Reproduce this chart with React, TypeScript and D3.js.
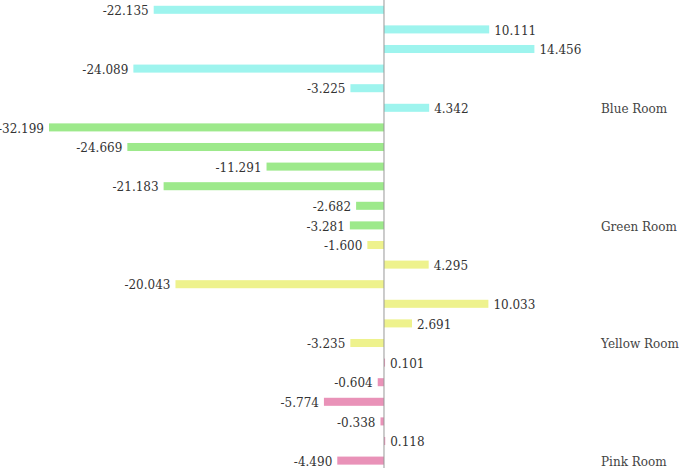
import React from "react";
import * as d3 from "d3";

const groups = ["Blue Room", "Green Room", "Yellow Room", "Pink Room"];
const groupColors = ["#9ef4ee", "#9de98b", "#eef28d", "#e992b8"];
const blueValues = [-22.135, 10.111, 14.456, -24.089, -3.225, 4.342];
const greenValues = [-32.199, -24.669, -11.291, -21.183, -2.682, -3.281];
const yellowValues = [-1.6, 4.295, -20.043, 10.033, 2.691, -3.235];
const pinkValues = [0.101, -0.604, -5.774, -0.338, 0.118, -4.49];

const W = 685;
const H = 469;

export default function App() {
  const series = [blueValues, greenValues, yellowValues, pinkValues];
  const rows = series.flatMap((vals, gi) =>
    vals.map((v, i) => ({ key: `${gi}-${i}`, g: gi, v, last: i === vals.length - 1 }))
  );
  const x = d3.scaleLinear().domain([-32.199, 14.456]).range([49, 534.4]);
  const y = d3
    .scaleBand<string>()
    .domain(rows.map((r) => r.key))
    .range([0, 470.4])
    .paddingInner(0.59)
    .paddingOuter(0.295);
  const fmt = (v: number) => d3.format(".3f")(v).replace("\u2212", "-");
  const x0 = x(0);
  return (
    <svg
      width={W}
      height={H}
      style={{ position: "absolute", left: 0, top: 0, background: "#fff" }}
      fontFamily="'DejaVu Serif', serif"
      fontSize={12}
    >
      {rows.map((r) => {
        const yy = y(r.key)!;
        const bh = y.bandwidth();
        const xv = x(r.v);
        const cy = yy + bh / 2;
        return (
          <g key={r.key}>
            <rect
              x={Math.min(xv, x0)}
              y={yy}
              width={Math.abs(xv - x0)}
              height={bh}
              fill={groupColors[r.g]}
            />
            <text
              x={r.v < 0 ? xv - 5 : xv + 5}
              y={cy + 1}
              dy="0.35em"
              textAnchor={r.v < 0 ? "end" : "start"}
              fill="#333"
            >
              {fmt(r.v)}
            </text>
            {r.last && (
              <text x={601} y={cy + 1} dy="0.35em" fill="#444">
                {groups[r.g]}
              </text>
            )}
          </g>
        );
      })}
      <line x1={x0} x2={x0} y1={0} y2={468} stroke="#999" strokeWidth={1} />
    </svg>
  );
}
